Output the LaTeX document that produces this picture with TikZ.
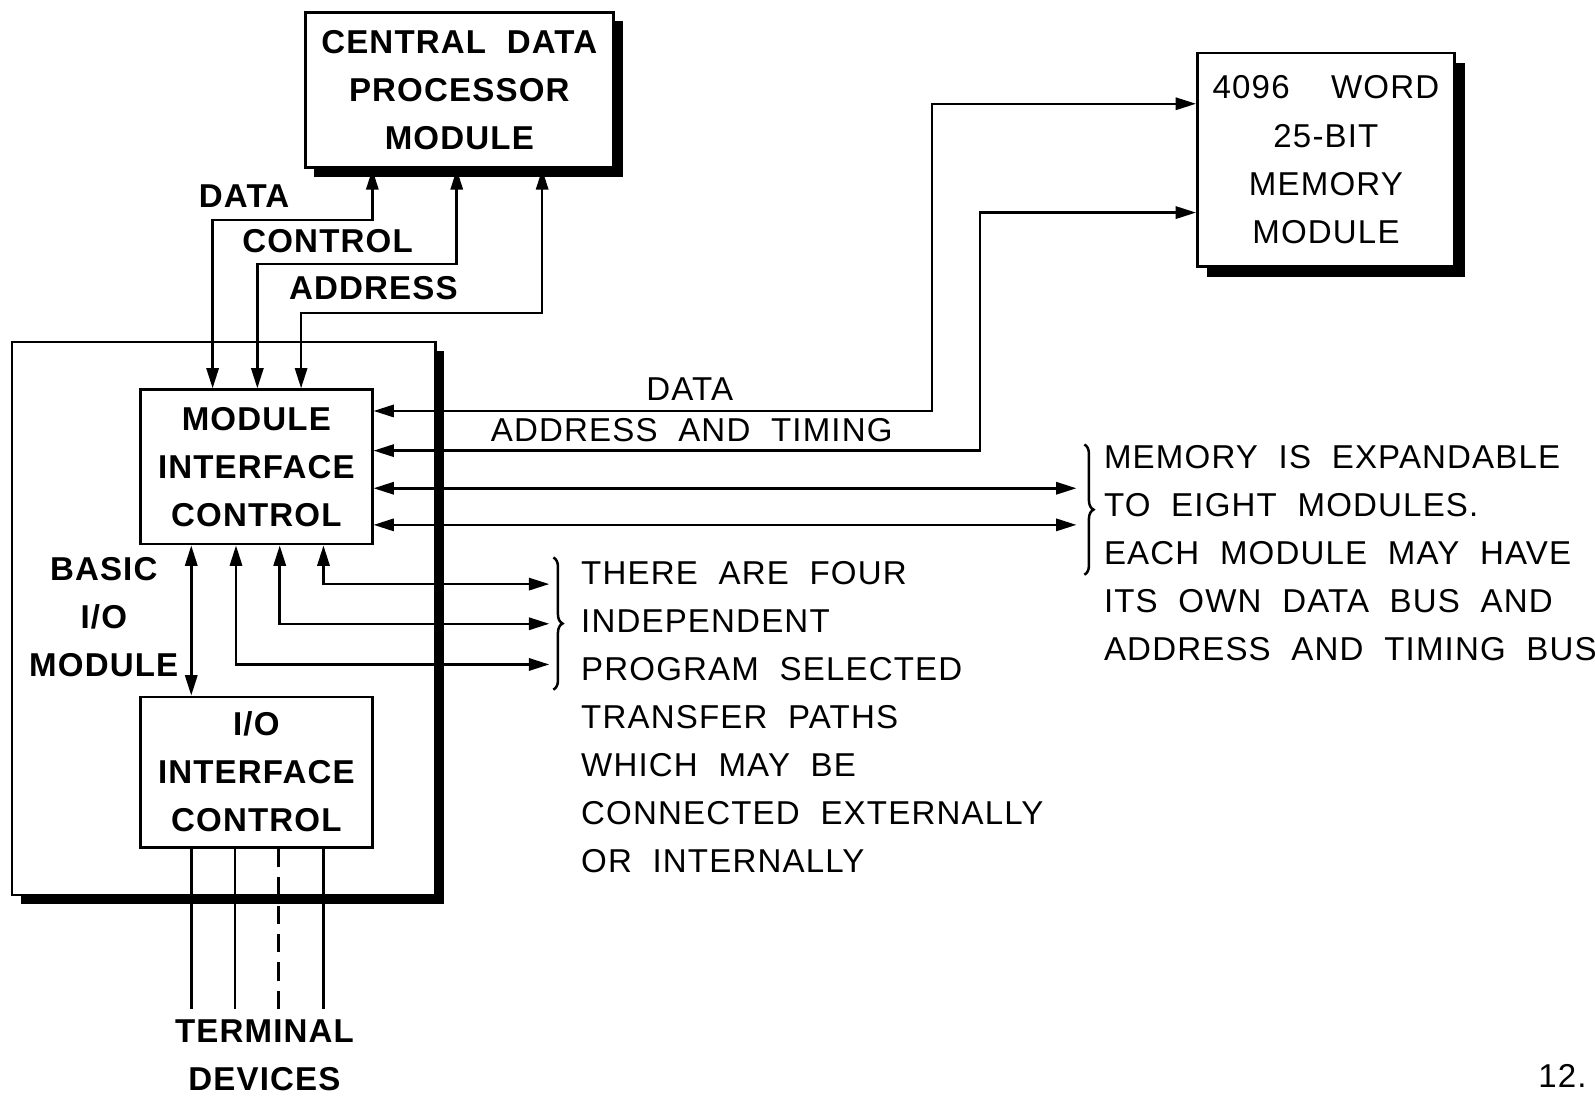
\documentclass[tikz,border=0pt]{standalone}
\usepackage{fontspec}
\setmainfont{Liberation Sans}[LetterSpace=3.5,WordSpace=2]
\usetikzlibrary{arrows.meta, shadows, decorations.pathreplacing}

\begin{document}
\begin{tikzpicture}[x=0.02cm, y=-0.02cm,
    box/.style={rectangle, draw, line width=1.4pt, fill=white, align=center, inner sep=0pt, font=\bfseries\fontsize{18.5}{26.9}\selectfont},
    membox/.style={box, font=\fontsize{18.5}{26.9}\selectfont},
    heavy/.style={drop shadow={fill=black, opacity=1, shadow xshift=0.18cm, shadow yshift=-0.18cm}},
    lbl/.style={align=center, inner sep=0pt, font=\bfseries\fontsize{18.5}{26.9}\selectfont},
    txt/.style={align=left, inner sep=0pt, font=\fontsize{18.5}{26.9}\selectfont},
    bus/.style={{Triangle[length=0.4cm,width=0.24cm]}-{Triangle[length=0.4cm,width=0.24cm]}, line width=1.4pt},
    wire/.style={line width=1.4pt},
    grp/.style={decorate, decoration={brace, amplitude=0.18cm}, line width=1.4pt}
]
    \useasboundingbox (0,0) rectangle (1568,1077);

    % Modules
    \node[box, heavy, minimum width=8.32cm, minimum height=10.88cm] (basic) at (220,608) {};
    \node[box, minimum width=4.56cm, minimum height=3.04cm] (mic) at (252,459) {MODULE\\INTERFACE\\CONTROL};
    \node[box, minimum width=4.56cm, minimum height=2.96cm] (ioic) at (252,759) {I/O\\INTERFACE\\CONTROL};
    \node[box, heavy, line width=1.7pt, minimum width=6.06cm, minimum height=3.06cm] (cdp) at (451.5,88.5) {CENTRAL DATA\\PROCESSOR\\MODULE};
    \node[membox, drop shadow={fill=black, opacity=1, shadow xshift=0.2cm, shadow yshift=-0.2cm}, minimum width=5.06cm, minimum height=4.2cm] (mem) at (1303.5,157) {4096\ \ WORD\\25-BIT\\MEMORY\\MODULE};

    % Labels
    \node[lbl] (ldata) at (240,193) {DATA};
    \node[lbl] (lctrl) at (322,237) {CONTROL};
    \node[lbl] (laddr) at (367,283) {ADDRESS};
    \node[txt] (lmdata) at (678,383) {DATA};
    \node[txt] (lmaddr) at (680,423) {ADDRESS AND TIMING};
    \node[lbl] (lbasic) at (102,607) {BASIC\\I/O\\MODULE};
    \node[lbl] (term) at (260,1037) {TERMINAL\\DEVICES};
    \node[txt, anchor=west] (paths) at (571,705) {THERE ARE FOUR\\INDEPENDENT\\PROGRAM SELECTED\\TRANSFER PATHS\\WHICH MAY BE\\CONNECTED EXTERNALLY\\OR INTERNALLY};
    \node[txt, anchor=west] (expand) at (1085,543.5) {MEMORY IS EXPANDABLE\\TO EIGHT MODULES.\\EACH MODULE MAY HAVE\\ITS OWN DATA BUS AND\\ADDRESS AND TIMING BUS};
    \node[txt] (pgno) at (1536,1058) {12.};

    % Processor buses
    \draw[bus] ([xshift=-1.71cm]cdp.south) -- ++(0,50) -| ([xshift=-0.86cm]mic.north);
    \draw[bus] ([xshift=-0.05cm]cdp.south) -- ++(0,93) -| ([xshift=0.02cm]mic.north);
    \draw[bus] ([xshift=1.63cm]cdp.south) -- ++(0,141) -| ([xshift=0.88cm]mic.north);

    % Memory buses
    \draw[bus] ([yshift=1.1cm]mic.east) -- ++(549,0) |- ([yshift=1.1cm]mem.west);
    \draw[bus] ([yshift=0.32cm]mic.east) -- ++(596,0) |- ([yshift=-1.04cm]mem.west);
    \draw[bus] ([yshift=-0.42cm]mic.east) -- ++(691,0);
    \draw[bus] ([yshift=-1.14cm]mic.east) -- ++(691,0);
    \draw[grp] (1066,437) -- (1066,565);

    % Transfer paths
    \draw[bus] ([xshift=1.32cm]mic.south) -- ++(0,38) -- ++(222,0);
    \draw[bus] ([xshift=0.46cm]mic.south) -- ++(0,77) -- ++(265,0);
    \draw[bus] ([xshift=-0.4cm]mic.south) -- ++(0,117) -- ++(308,0);
    \draw[grp] (544,548) -- (544,678);
    \draw[bus] ([xshift=-1.28cm]mic.south) -- ([xshift=-1.28cm]ioic.north);

    % Terminal lines
    \draw[wire] ([xshift=-1.28cm]ioic.south) -- ++(0,158);
    \draw[wire] ([xshift=-0.42cm]ioic.south) -- ++(0,158);
    \draw[wire, dash pattern=on 0.36cm off 0.2cm] ([xshift=0.44cm]ioic.south) -- ++(0,158);
    \draw[wire] ([xshift=1.32cm]ioic.south) -- ++(0,158);
\end{tikzpicture}
\end{document}
